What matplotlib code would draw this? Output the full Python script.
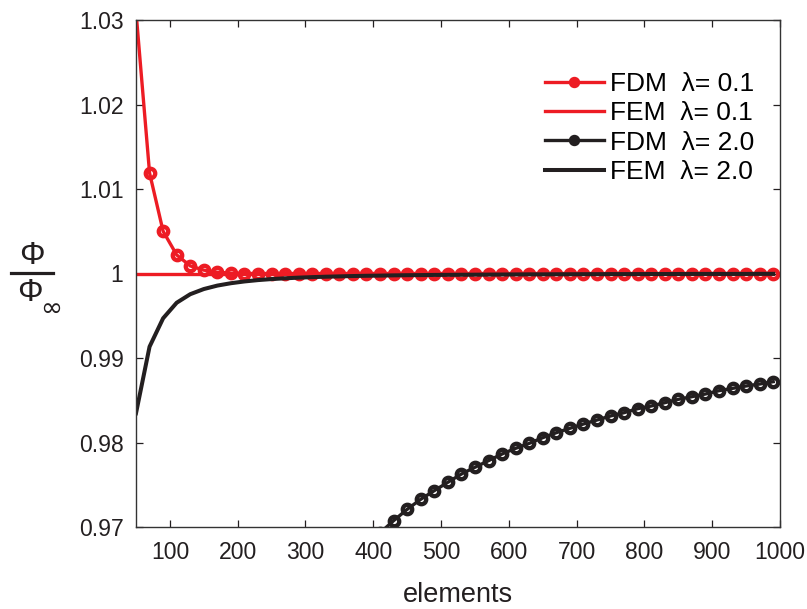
import numpy as np
import matplotlib
matplotlib.use("Agg")
import matplotlib.pyplot as plt
from matplotlib.lines import Line2D

plt.rcParams['font.family'] = ['Liberation Sans', 'DejaVu Sans']

RED = '#ED1C24'
BLACK = '#231F20'

# number of elements (sampled every 20)
elements = np.arange(50, 1000, 20)

fdm_01 = [1.0310, 1.0119, 1.0050, 1.0022, 1.0009, 1.0004, 1.00015, 1.00005,
          1.0000, 1.0000, 1.0000, 1.0000, 1.0000, 1.0000, 1.0000, 1.0000,
          1.0000, 1.0000, 1.0000, 1.0000, 1.0000, 1.0000, 1.0000, 1.0000,
          1.0000, 1.0000, 1.0000, 1.0000, 1.0000, 1.0000, 1.0000, 1.0000,
          1.0000, 1.0000, 1.0000, 1.0000, 1.0000, 1.0000, 1.0000, 1.0000,
          1.0000, 1.0000, 1.0000, 1.0000, 1.0000, 1.0000, 1.0000, 1.0000]

fem_01 = [1.0] * len(elements)

fdm_20 = [0.748, 0.820, 0.860, 0.885, 0.903, 0.916, 0.926, 0.934,
          0.940, 0.945, 0.950, 0.953, 0.957, 0.959, 0.962, 0.964,
          0.966, 0.9677, 0.9693, 0.97075, 0.97209, 0.97328, 0.97430, 0.97529,
          0.97627, 0.97707, 0.97785, 0.97864, 0.97931, 0.97990, 0.98057, 0.98116,
          0.98168, 0.98219, 0.98266, 0.98314, 0.98353, 0.98400, 0.98432, 0.98471,
          0.98511, 0.98542, 0.98574, 0.98613, 0.98641, 0.98669, 0.98692, 0.98720]

fem_20 = [0.98346, 0.99134, 0.99470, 0.99654, 0.99755, 0.99816, 0.99857, 0.99885,
          0.99906, 0.99922, 0.99934, 0.99943, 0.99951, 0.99957, 0.99962, 0.99966,
          0.99970, 0.99973, 0.99975, 0.99978, 0.99980, 0.99981, 0.99983, 0.99984,
          0.99985, 0.99986, 0.99987, 0.99988, 0.99989, 0.99990, 0.99990, 0.99991,
          0.99991, 0.99992, 0.99992, 0.99993, 0.99993, 0.99993, 0.99994, 0.99994,
          0.99994, 0.99995, 0.99995, 0.99995, 0.99995, 0.99995, 0.99996, 0.99996]

xticks = [100, 200, 300, 400, 500, 600, 700, 800, 900, 1000]
yticks = [0.97, 0.98, 0.99, 1.0, 1.01, 1.02, 1.03]
ytick_labels = ['0.97', '0.98', '0.99', '1', '1.01', '1.02', '1.03']

W, H = 807, 609
fig = plt.figure(figsize=(W / 100, H / 100), dpi=100)
ax = fig.add_axes([136 / W, 1 - 527 / H, (780 - 136) / W, (527 - 20) / H])

mk = dict(marker='o', markersize=6.8, markerfacecolor='none', markeredgewidth=3.1)
ax.plot(elements, fdm_01, color=RED, lw=2.4, label='FDM  λ= 0.1', **mk)
ax.plot(elements, fem_01, color=RED, lw=2.4, label='FEM  λ= 0.1')
ax.plot(elements, fdm_20, color=BLACK, lw=2.4, label='FDM  λ= 2.0', **mk)
ax.plot(elements, fem_20, color=BLACK, lw=2.9, label='FEM  λ= 2.0')

ax.set_xlim(50, 1000)
ax.set_ylim(0.97, 1.03)
ax.set_xticks(xticks)
ax.set_yticks(yticks)
ax.set_yticklabels(ytick_labels)
ax.tick_params(direction='in', top=True, right=True, length=5, width=0.9,
               labelsize=16.6, colors=BLACK)
ax.tick_params(axis='x', pad=10)
ax.tick_params(axis='y', pad=9)
for s in ax.spines.values():
    s.set_linewidth(1.0)
    s.set_color('#333333')

ax.set_xlabel('elements', fontsize=19.5, color=BLACK, labelpad=13)

# y label: Phi over Phi_infinity, built as a stacked fraction
fig.text(32 / W, 1 - 256 / H, 'Φ', fontsize=23, ha='center', va='center', color=BLACK)
fig.add_artist(Line2D([11 / W, 53 / W], [1 - 273 / H, 1 - 273 / H],
                      transform=fig.transFigure, color=BLACK, lw=2.3))
fig.text(30 / W, 1 - 293 / H, 'Φ', fontsize=23, ha='center', va='center', color=BLACK)
fig.text(51 / W, 1 - 309 / H, '∞', fontsize=19, family='DejaVu Sans',
         ha='center', va='center', color=BLACK)

leg = ax.legend(loc='upper right', frameon=False, fontsize=19, handlelength=2.24,
                handletextpad=0.23, labelspacing=0.2, markerscale=0.75,
                borderaxespad=0.0, bbox_to_anchor=(0.976, 0.918))

fig.savefig('out.png', dpi=100)
